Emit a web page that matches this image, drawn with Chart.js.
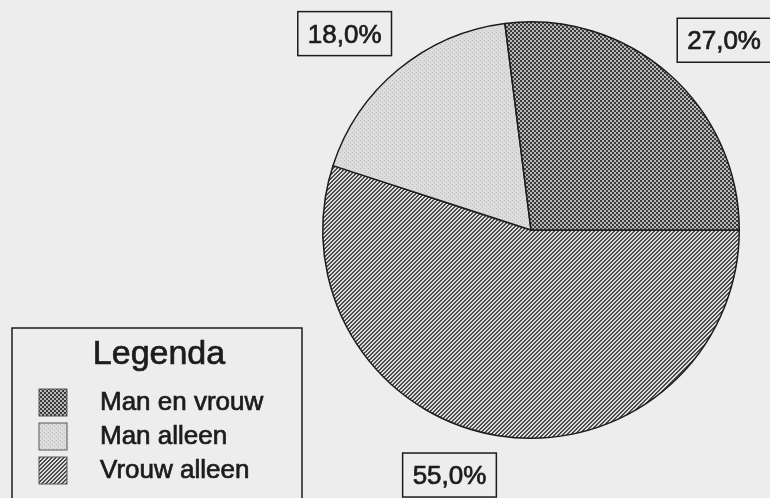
<!DOCTYPE html>
<html>
<head>
<meta charset="utf-8">
<script src="https://cdn.jsdelivr.net/npm/chart.js@4/dist/chart.umd.min.js"></script>
<style>
  body { margin: 0; background: #ededed; }
  #wrap { width: 770px; height: 498px; }
</style>
</head>
<body>
<div id="wrap"><canvas id="pie" width="770" height="498"></canvas></div>
<script>
// data, in drawing order (clockwise from 3 o'clock)
var labels = ['Vrouw alleen', 'Man alleen', 'Man en vrouw'];
var shares = [55, 18, 27];
var shareText = ['55,0%', '18,0%', '27,0%'];
var legendTitle = 'Legenda';
var legendOrder = ['Man en vrouw', 'Man alleen', 'Vrouw alleen'];

var ink = '#1c1c1c';
var paper = '#ededed';
var font = '"Liberation Sans", Arial, sans-serif';

var canvas = document.getElementById('pie');
var ctx = canvas.getContext('2d');

function makePattern(size, draw) {
  var c = document.createElement('canvas');
  c.width = size;
  c.height = size;
  var g = c.getContext('2d');
  draw(g, size);
  return ctx.createPattern(c, 'repeat');
}

// slightly heavier than regular, like the scanned type
function inkText(c, txt, x, y) {
  c.fillText(txt, x, y);
  c.lineWidth = 0.7;
  c.strokeStyle = ink;
  c.strokeText(txt, x, y);
}

// diagonal "/" lines
var hatch = makePattern(4, function (g, n) {
  g.fillStyle = '#dedede';
  g.fillRect(0, 0, n, n);
  g.fillStyle = '#4a4a4a';
  for (var x = 0; x < n; x++)
    for (var y = 0; y < n; y++)
      if ((x + y) % n < 2) g.fillRect(x, y, 1, 1);
});
// light stipple
var stipple = makePattern(4, function (g, n) {
  g.fillStyle = '#dcdcdc';
  g.fillRect(0, 0, n, n);
  g.fillStyle = '#c0c0c0';
  g.fillRect(0, 0, 1, 1);
  g.fillRect(2, 2, 1, 1);
});
// dark checker
var checker = makePattern(4, function (g, n) {
  g.fillStyle = '#b8b8b8';
  g.fillRect(0, 0, n, n);
  g.fillStyle = '#3a3a3a';
  g.fillRect(0, 0, 2, 2);
  g.fillRect(2, 2, 2, 2);
});
var fills = [hatch, stipple, checker];

// boxed percent labels round the pie
var boxLabels = {
  id: 'boxLabels',
  afterDatasetsDraw: function (chart, args, opts) {
    var c = chart.ctx;
    var arcs = chart.getDatasetMeta(0).data;
    c.save();
    c.font = '26px ' + font;
    arcs.forEach(function (arc, i) {
      var mid = (arc.startAngle + arc.endAngle) / 2 + opts.nudge[i] * Math.PI / 180;
      var r = arc.outerRadius * opts.dist[i];
      var cx = arc.x + Math.cos(mid) * r;
      var cy = arc.y + Math.sin(mid) * r;
      var txt = shareText[i];
      var w = c.measureText(txt).width + 20;
      var h = 44;
      c.fillStyle = paper;
      c.fillRect(cx - w / 2, cy - h / 2, w, h);
      c.lineWidth = 1.5;
      c.strokeStyle = ink;
      c.strokeRect(cx - w / 2, cy - h / 2, w, h);
      c.fillStyle = ink;
      c.textAlign = 'center';
      c.textBaseline = 'alphabetic';
      inkText(c, txt, cx, cy + 9);
    });
    c.restore();
  }
};

// framed legend, bottom left
var boxLegend = {
  id: 'boxLegend',
  afterDraw: function (chart) {
    var c = chart.ctx;
    c.save();
    c.lineWidth = 1.5;
    c.strokeStyle = ink;
    c.strokeRect(12, 328, 290, 190);
    c.fillStyle = ink;
    c.textAlign = 'center';
    c.font = '34px ' + font;
    inkText(c, legendTitle, 159, 364);
    c.textAlign = 'left';
    c.font = '26px ' + font;
    legendOrder.forEach(function (name, k) {
      var i = labels.indexOf(name);
      var base = 410 + k * 34;
      c.fillStyle = fills[i];
      c.fillRect(39, base - 21, 28, 27);
      c.lineWidth = 1;
      c.strokeStyle = '#555';
      c.strokeRect(39, base - 21, 28, 27);
      c.fillStyle = ink;
      inkText(c, name, 100, base);
    });
    c.restore();
  }
};

new Chart(ctx, {
  type: 'pie',
  data: {
    labels: labels,
    datasets: [{
      data: shares,
      backgroundColor: fills,
      borderColor: ink,
      borderWidth: 1.5
    }]
  },
  options: {
    responsive: false,
    animation: false,
    events: [],
    rotation: 90,
    layout: { padding: { left: 322, right: 30, top: 21, bottom: 59 } },
    plugins: {
      legend: { display: false },
      tooltip: { enabled: false },
      boxLabels: { nudge: [9.4, -3.9, 4.1], dist: [1.24, 1.3, 1.3] }
    }
  },
  plugins: [boxLabels, boxLegend]
});
</script>
</body>
</html>
